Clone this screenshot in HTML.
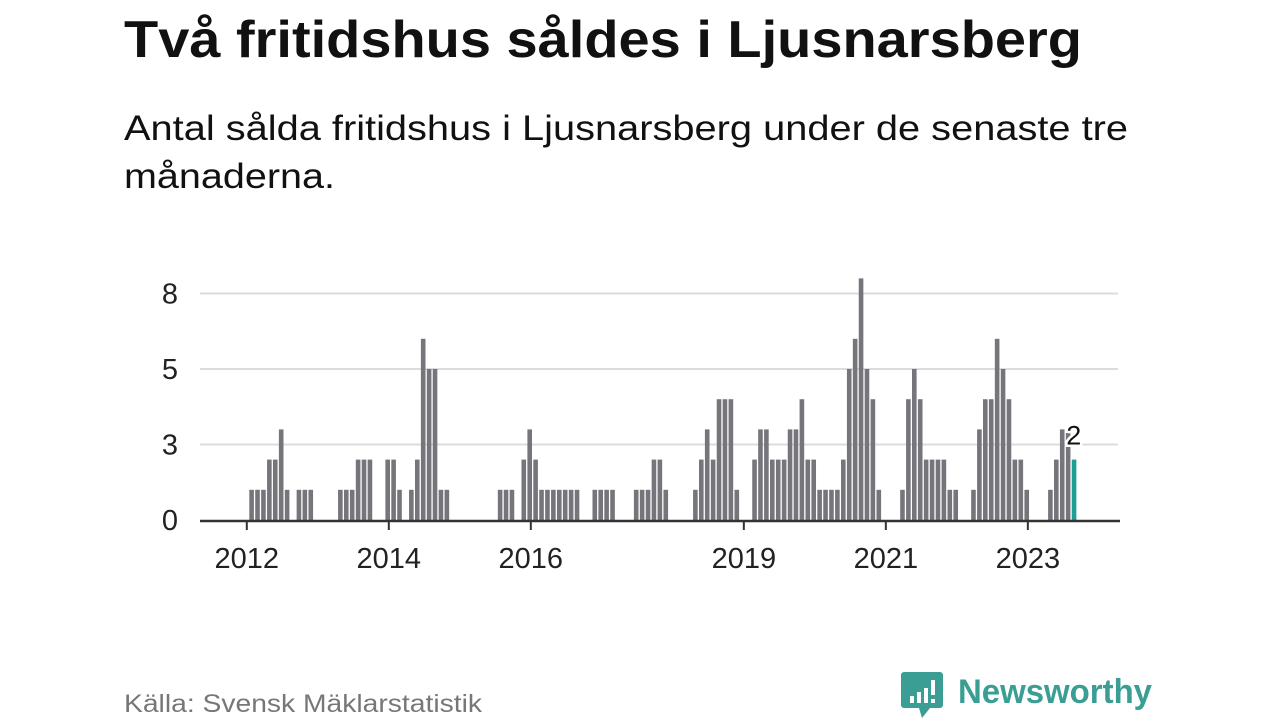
<!DOCTYPE html>
<html><head><meta charset="utf-8"><style>
html,body{margin:0;padding:0;background:#fff;}
svg{display:block;font-family:"Liberation Sans",sans-serif;}
</style></head><body>
<svg id="chart" width="1280" height="720" viewBox="0 0 1280 720" xmlns="http://www.w3.org/2000/svg">
<text x="124" y="57" font-size="52" font-weight="bold" fill="#111" textLength="958" lengthAdjust="spacingAndGlyphs">Två fritidshus såldes i Ljusnarsberg</text>
<text x="124" y="140" font-size="35" fill="#111" textLength="1004" lengthAdjust="spacingAndGlyphs">Antal sålda fritidshus i Ljusnarsberg under de senaste tre</text>
<text x="124" y="188" font-size="35" fill="#111" textLength="211" lengthAdjust="spacingAndGlyphs">månaderna.</text>
<g id="grid"></g>
<g id="bars"></g>
<g id="axes"></g>
<text x="124" y="712" font-size="25" fill="#777" textLength="358" lengthAdjust="spacingAndGlyphs">Källa: Svensk Mäklarstatistik</text>
<g>
<path d="M904 672 h36 a3 3 0 0 1 3 3 v30 a3 3 0 0 1 -3 3 h-10 l-8 10 l-3 -10 h-15 a3 3 0 0 1 -3 -3 v-30 a3 3 0 0 1 3 -3z" fill="#3a9e94"/>
<rect x="910" y="696" width="4" height="7" fill="#fff"/>
<rect x="917" y="692" width="4" height="11" fill="#fff"/>
<rect x="924" y="688" width="4" height="15" fill="#fff"/>
<rect x="931" y="680" width="4" height="15" fill="#fff"/>
<rect x="931" y="699" width="4" height="4" fill="#fff"/>
<text x="958" y="703" font-size="34" font-weight="bold" fill="#3a9e94" textLength="194" lengthAdjust="spacingAndGlyphs">Newsworthy</text>
</g>
</svg>
<script>
// monthly values, index 0 = Jan 2012
const values = [1,1,1,2,2,3,1,0,1,1,1,0,0,0,0,1,1,1,2,2,2,0,0,2,2,1,0,1,2,6,5,5,1,1,0,0,0,0,0,0,0,0,1,1,1,0,2,3,2,1,1,1,1,1,1,1,0,0,1,1,1,1,0,0,0,1,1,1,2,2,1,0,0,0,0,1,2,3,2,4,4,4,1,0,0,2,3,3,2,2,2,3,3,4,2,2,1,1,1,1,2,5,6,8,5,4,1,0,0,0,1,4,5,4,2,2,2,2,1,1,0,0,1,3,4,4,6,5,4,2,2,1,0,0,0,1,2,3,3,2];
const yTicks = [0, 2.5, 5, 7.5];
const yTickLabels = ["0","3","5","8"];
const xTickIdx = [0, 24, 48, 84, 108, 132];
const xTickLabels = ["2012","2014","2016","2019","2021","2023"];
const lastLabel = "2";

const NS = "http://www.w3.org/2000/svg";
const base = 520, unit = 30.2, pitch = 5.917, bar0 = 249.3, bw = 4.6;
const y = v => base - v * unit;
const x = i => bar0 + i * pitch;
function mk(tag, attrs, parent){const e=document.createElementNS(NS,tag);for(const k in attrs)e.setAttribute(k,attrs[k]);parent.appendChild(e);return e;}
const grid=document.getElementById('grid'), bars=document.getElementById('bars'), axes=document.getElementById('axes');
yTicks.forEach((t,i)=>{
  if(t>0){const l=mk('line',{x1:200,x2:1118,y1:y(t),y2:y(t),stroke:'#dcdcdc','stroke-width':2},grid);
  
  }
  const tx=mk('text',{x:178,y:y(t)+10,'font-size':29,fill:'#222','text-anchor':'end'},grid);
  tx.textContent=yTickLabels[i];
  
  
});
values.forEach((v,i)=>{
  if(v<=0)return;
  const last=i===values.length-1;
  const r=mk('rect',{x:x(i),y:y(v),width:bw,height:v*unit,fill:last?'#1f9e96':'#75757b'},bars);
  
  
});
const li=values.length-1;
const lab=mk('text',{x:x(li)+2,y:y(values[li])-15,'font-size':27,fill:'#111','text-anchor':'middle',stroke:'#fff','stroke-width':5,'paint-order':'stroke'},bars);
lab.textContent=lastLabel;


const ax=mk('line',{x1:200,x2:1120,y1:521,y2:521,stroke:'#333','stroke-width':2.5},axes);


xTickIdx.forEach((idx,i)=>{
  const tx0=x(idx)-2.5;
  const t=mk('line',{x1:tx0,x2:tx0,y1:521,y2:530,stroke:'#333','stroke-width':2},axes);
  
  
  const tl=mk('text',{x:tx0,y:568,'font-size':29,fill:'#222','text-anchor':'middle'},axes);
  tl.textContent=xTickLabels[i];
  
  
});
</script>
</body></html>
